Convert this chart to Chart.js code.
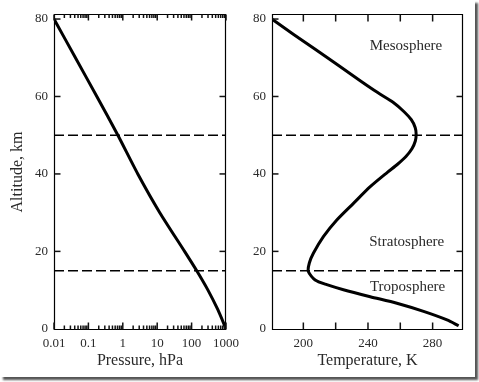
<!DOCTYPE html>
<html><head><meta charset="utf-8">
<script src="https://cdn.jsdelivr.net/npm/chart.js@4"></script>
<style>
html,body{margin:0;padding:0;background:#fff;}
#frame{position:absolute;left:0;top:0;width:475px;height:377px;background:#fff;box-shadow:3px 3px 2px #555;}
#c1{position:absolute;left:0;top:0;}
#c2{position:absolute;left:245px;top:0;}
</style></head><body>
<div id="frame"></div>
<canvas id="c1" width="245" height="382"></canvas>
<canvas id="c2" width="234" height="382"></canvas>
<script>
// ---- data ----
const altitudeTicks = [0, 20, 40, 60, 80];
const pressureTicks = [0.01, 0.1, 1, 10, 100, 1000];
const pressureTickLabels = ['0.01', '0.1', '1', '10', '100', '1000'];
const pressureMinorTicks = [0.02,0.03,0.04,0.05,0.06,0.07,0.08,0.09, 0.2,0.3,0.4,0.5,0.6,0.7,0.8,0.9, 2,3,4,5,6,7,8,9, 20,30,40,50,60,70,80,90, 200,300,400,500,600,700,800,900];
const temperatureTicks = [200, 240, 280];
const temperatureMinorTicks = [220, 260];
const pressureAltitude = [0, 5, 10, 15, 20, 30, 40, 50, 60, 70, 80];
const pressure = [1000, 575, 299, 141, 62.5, 11.9, 2.73, 0.72, 0.176, 0.042, 0.01];
const temperatureAltitude = [0.8, 2.3, 4.5, 6.6, 8.3, 10.1, 11.4, 12.6, 14.8, 17.0, 19.5, 23.8, 28.1, 32.4, 36.7, 40.4, 42.5, 44.5, 46.5, 48.5, 50.3, 52, 54, 56, 58.5, 61, 64, 68, 72, 76, 80];
const temperature = [296.1, 288.9, 274.4, 257.9, 241.4, 224.8, 214.5, 207.3, 203.1, 203.7, 206.2, 212.4, 220.7, 231, 241.4, 252, 258.3, 263.5, 267.2, 269.3, 269.8, 269.2, 266.8, 262.5, 255.5, 246, 235.4, 221.8, 208, 194, 180.5];
const boundaryAltitudes = [15, 50];
const layerNames = ['Mesosphere', 'Stratosphere', 'Troposphere'];

// ---- styling / layout ----
const SERIF = '"Liberation Serif", "DejaVu Serif", serif';
const TXT = '#2a2a2a';
const Y_RANGE = {min: -0.3, max: 81.3};
const P_RANGE = {min: 0.01, max: 1000};
const T_RANGE = {min: 180.6, max: 298.8};
const layerAnchors = [{x: 263.5, y: 73.1}, {x: 264, y: 22.5}, {x: 264.5, y: 10.8}];

function makeFrame(cfg) {
  return {
    id: 'frameTicks',
    afterDraw(chart) {
      const ctx = chart.ctx, a = chart.chartArea;
      const xs = chart.scales.x, ys = chart.scales.y;
      const L = a.left + 0.5, R = a.right - 0.5;
      const T = a.top + 0.5, B = a.bottom - 0.5;
      ctx.save();
      ctx.strokeStyle = '#000';
      ctx.lineWidth = 1.2;
      ctx.setLineDash([]);
      ctx.beginPath();
      ctx.rect(L, T, R - L, B - T);
      ctx.stroke();
      ctx.lineWidth = 1.5;
      ctx.strokeStyle = '#111';
      const seg = (x1, y1, x2, y2) => { ctx.beginPath(); ctx.moveTo(x1, y1); ctx.lineTo(x2, y2); ctx.stroke(); };
      cfg.xMajor.forEach(v => {
        const px = xs.getPixelForValue(v);
        seg(px, B, px, B - cfg.lenMajor);
        seg(px, T, px, T + cfg.lenMajorTop);
      });
      cfg.xMinor.forEach(v => {
        const px = xs.getPixelForValue(v);
        seg(px, B, px, B - cfg.lenMinor);
        seg(px, T, px, T + cfg.lenMinorTop);
      });
      cfg.yLeft.forEach(v => {
        const py = ys.getPixelForValue(v);
        seg(L, py, L + cfg.lenY, py);
      });
      cfg.yRight.forEach(v => {
        const py = ys.getPixelForValue(v);
        seg(R, py, R - cfg.lenY, py);
      });
      ctx.restore();
    }
  };
}

const layerPlugin = {
  id: 'layers',
  afterDatasetsDraw(chart) {
    const {ctx, scales: {x, y}} = chart;
    ctx.save();
    ctx.fillStyle = TXT;
    ctx.font = '15px ' + SERIF;
    ctx.textAlign = 'center';
    ctx.textBaseline = 'middle';
    layerNames.forEach((n, i) => {
      ctx.fillText(n, x.getPixelForValue(layerAnchors[i].x), y.getPixelForValue(layerAnchors[i].y));
    });
    ctx.restore();
  }
};

function dashed(xmin, xmax) {
  return boundaryAltitudes.map(h => ({
    data: [{x: xmin, y: h}, {x: xmax, y: h}],
    showLine: true, borderColor: '#000', borderWidth: 1.4, borderDash: [10, 4],
    pointRadius: 0, tension: 0
  }));
}

const yAxisBase = (width, title) => ({
  type: 'linear', min: Y_RANGE.min, max: Y_RANGE.max,
  afterBuildTicks: s => { s.ticks = altitudeTicks.map(v => ({value: v})); },
  afterFit: s => { s.width = width; },
  grid: {display: false, drawTicks: false}, border: {display: false},
  ticks: {color: TXT, padding: 6, font: {family: SERIF, size: 13}},
  title: title ? {display: true, text: title, color: TXT, font: {family: SERIF, size: 16}, padding: {top: 8, bottom: 0}} : {display: false}
});

const xTitle = text => ({display: true, text, color: TXT, font: {family: SERIF, size: 16}, padding: {top: 0, bottom: 12}});

new Chart(document.getElementById('c1'), {
  type: 'scatter',
  data: {
    datasets: [{
      data: pressureAltitude.map((h, i) => ({x: pressure[i], y: h})),
      showLine: true, borderColor: '#000', borderWidth: 3, pointRadius: 0, tension: 0.2
    }, ...dashed(P_RANGE.min, P_RANGE.max)]
  },
  options: {
    responsive: false, animation: false,
    layout: {padding: {left: 0, right: 14, top: 14, bottom: 0}},
    plugins: {legend: {display: false}, tooltip: {enabled: false}},
    scales: {
      x: {
        type: 'logarithmic', min: P_RANGE.min, max: P_RANGE.max,
        afterBuildTicks: s => { s.ticks = pressureTicks.map(v => ({value: v})); },
        afterFit: s => { s.height = 52; },
        grid: {display: false, drawTicks: false}, border: {display: false},
        ticks: {color: TXT, padding: 6, autoSkip: false, maxRotation: 0, font: {family: SERIF, size: 13},
          callback: (v, i) => pressureTickLabels[i]},
        title: xTitle('Pressure, hPa')
      },
      y: yAxisBase(54, 'Altitude, km')
    }
  },
  plugins: [makeFrame({xMajor: pressureTicks, xMinor: pressureMinorTicks, yLeft: [20, 40, 60, 80], yRight: [20, 40, 60],
    lenMajor: 7, lenMinor: 4, lenMajorTop: 6, lenMinorTop: 3.5, lenY: 6})]
});

new Chart(document.getElementById('c2'), {
  type: 'scatter',
  data: {
    datasets: [{
      data: temperatureAltitude.map((h, i) => ({x: temperature[i], y: h})),
      showLine: true, borderColor: '#000', borderWidth: 3, pointRadius: 0, tension: 0.25
    }, ...dashed(T_RANGE.min, T_RANGE.max)]
  },
  options: {
    responsive: false, animation: false,
    layout: {padding: {left: 0, right: 16, top: 14, bottom: 0}},
    plugins: {legend: {display: false}, tooltip: {enabled: false}},
    scales: {
      x: {
        type: 'linear', min: T_RANGE.min, max: T_RANGE.max,
        afterBuildTicks: s => { s.ticks = temperatureTicks.map(v => ({value: v})); },
        afterFit: s => { s.height = 52; },
        grid: {display: false, drawTicks: false}, border: {display: false},
        ticks: {color: TXT, padding: 6, autoSkip: false, maxRotation: 0, font: {family: SERIF, size: 13}},
        title: xTitle('Temperature, K')
      },
      y: yAxisBase(27, null)
    }
  },
  plugins: [makeFrame({xMajor: temperatureTicks.concat(temperatureMinorTicks), xMinor: [], yLeft: [20, 40, 60, 80], yRight: [20, 40, 60],
    lenMajor: 7, lenMinor: 4, lenMajorTop: 7, lenMinorTop: 3.5, lenY: 6}), layerPlugin]
});
</script>
</body></html>
